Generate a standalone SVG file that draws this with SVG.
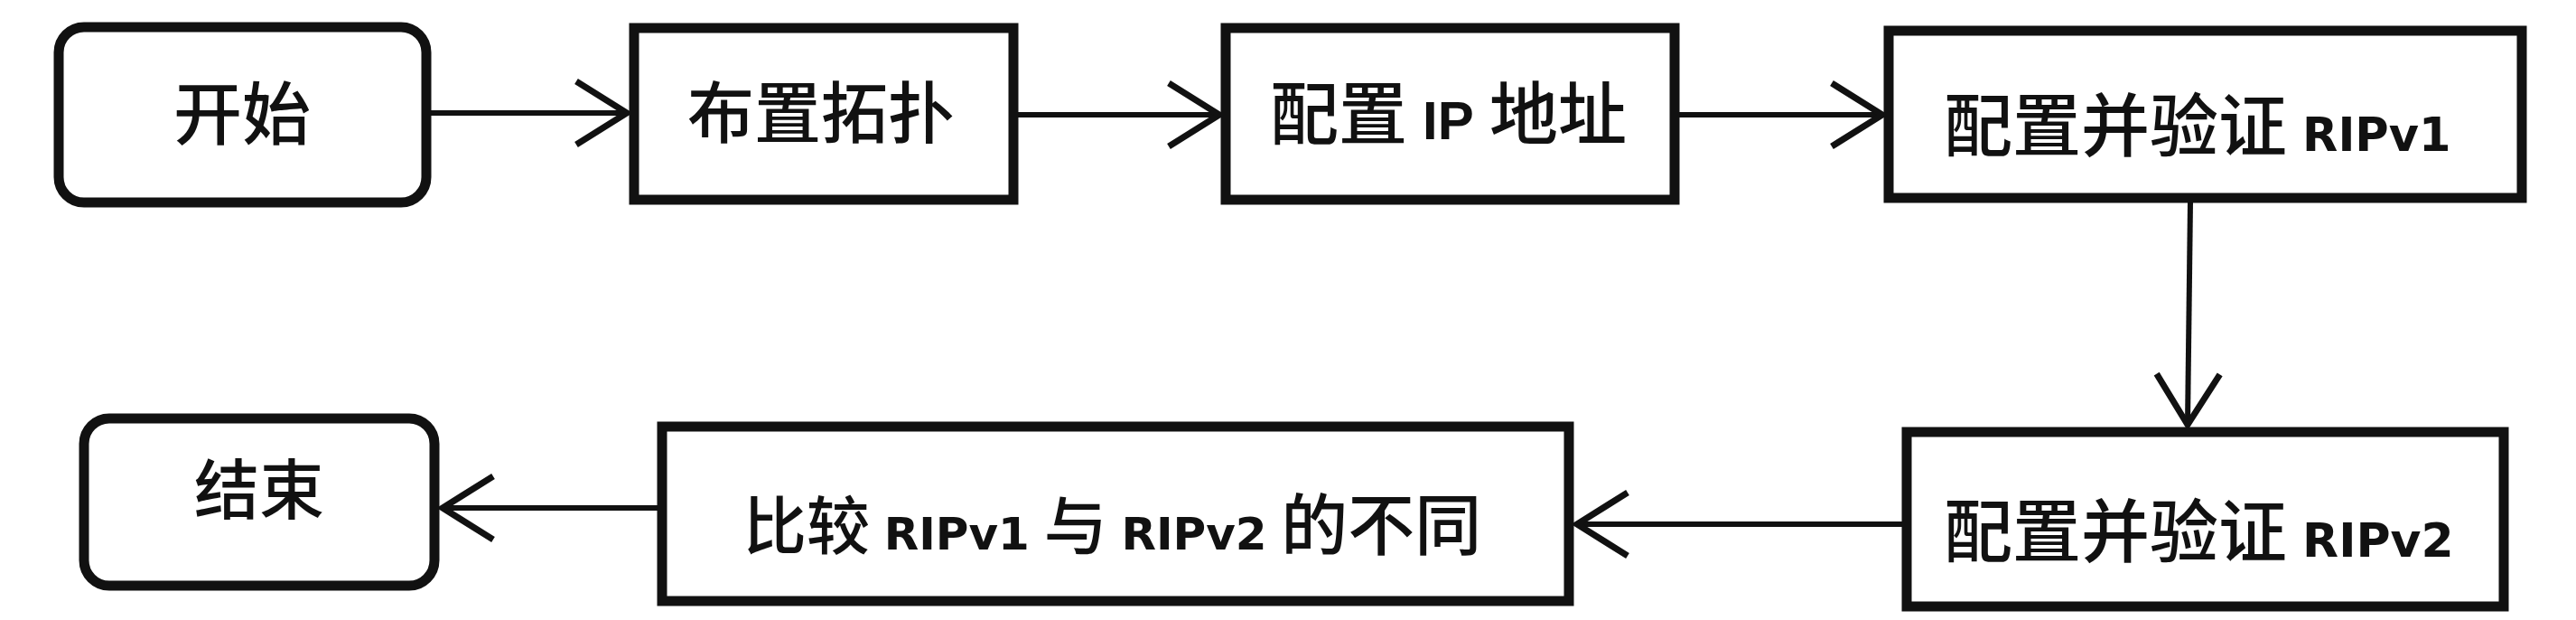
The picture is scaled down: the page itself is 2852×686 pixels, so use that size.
<svg xmlns="http://www.w3.org/2000/svg" width="2852" height="686" viewBox="0 0 2852 686">
  <style>
    .box { fill: #ffffff; stroke: #111111; stroke-width: 11; }
    .conn { stroke: #111111; stroke-width: 6; fill: none; }
    .cjk { font-family: "Noto Sans CJK SC", "Noto Sans", sans-serif; font-weight: 500; fill: #111111; }
    .lat { font-family: "DejaVu Sans", "Liberation Sans", sans-serif; font-weight: bold; }
  </style>
  <defs>
    <marker id="chev" markerUnits="userSpaceOnUse" viewBox="-5 -5 70 80" refX="56" refY="35" markerWidth="70" markerHeight="80" orient="auto" overflow="visible">
      <path d="M0,0 L56,35 L0,70" fill="none" stroke="#111111" stroke-width="7" stroke-linejoin="miter"/>
    </marker>
  </defs>
  <rect width="2852" height="686" fill="#ffffff"/>

  <g id="connectors">
    <line class="conn" x1="477" y1="125" x2="694" y2="125" marker-end="url(#chev)"/>
    <line class="conn" x1="1127" y1="127" x2="1350" y2="127" marker-end="url(#chev)"/>
    <line class="conn" x1="1859" y1="127" x2="2084" y2="127" marker-end="url(#chev)"/>
    <line class="conn" x1="2425" y1="224" x2="2422" y2="470" marker-end="url(#chev)"/>
    <line class="conn" x1="2106" y1="580" x2="1746" y2="580" marker-end="url(#chev)"/>
    <line class="conn" x1="728" y1="562" x2="490" y2="562" marker-end="url(#chev)"/>
  </g>

  <g id="node-start">
    <rect class="box" x="65" y="30" width="407" height="194" rx="28" ry="28"/>
    <text class="cjk" x="268" y="154" font-size="76" text-anchor="middle">开始</text>
  </g>

  <g id="node-topology">
    <rect class="box" x="702" y="31" width="420" height="190"/>
    <text class="cjk" x="909" y="152" font-size="74" text-anchor="middle">布置拓扑</text>
  </g>

  <g id="node-ip">
    <rect class="box" x="1357" y="31" width="497" height="190"/>
    <text class="cjk" x="1406" y="154" font-size="76">配置 <tspan font-family="Liberation Sans, sans-serif" font-weight="bold" font-size="60">IP</tspan> 地址</text>
  </g>

  <g id="node-ripv1">
    <rect class="box" x="2091" y="34" width="701" height="185"/>
    <text class="cjk" x="2152" y="167" font-size="76">配置并验证 <tspan class="lat" font-size="51">RIPv1</tspan></text>
  </g>

  <g id="node-ripv2">
    <rect class="box" x="2111" y="478" width="661" height="193"/>
    <text class="cjk" x="2152" y="616" font-size="76">配置并验证 <tspan class="lat" font-size="52">RIPv2</tspan></text>
  </g>

  <g id="node-compare">
    <rect class="box" x="733" y="472" width="1004" height="193"/>
    <text class="cjk" x="823" y="608" font-size="70">比较 <tspan class="lat" font-size="50">RIPv1</tspan> 与 <tspan class="lat" font-size="50">RIPv2</tspan> <tspan font-size="74">的不同</tspan></text>
  </g>

  <g id="node-end">
    <rect class="box" x="93" y="463" width="388" height="185" rx="28" ry="28"/>
    <text class="cjk" x="287" y="568" font-size="72" text-anchor="middle">结束</text>
  </g>
</svg>
